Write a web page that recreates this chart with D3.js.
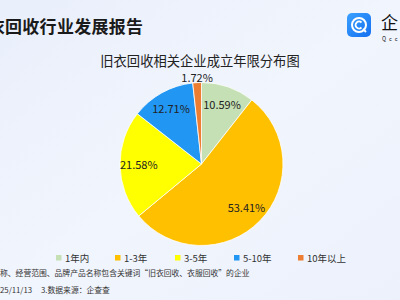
<!DOCTYPE html>
<html><head><meta charset="utf-8">
<script src="https://cdn.jsdelivr.net/npm/d3@7"></script>
<style>
html,body{margin:0;padding:0;width:400px;height:300px;overflow:hidden;}
svg{display:block;font-family:"Noto Sans CJK SC","Noto Sans",sans-serif;}
</style></head>
<body><svg id="c" width="400" height="300"></svg>
<script>
const categories = ["1年内", "1-3年", "3-5年", "5-10年", "10年以上"];
const values = [10.59, 53.41, 21.58, 12.71, 1.72];
const colors = ["#c5e0b4", "#ffc000", "#ffff00", "#2196f3", "#ed7d31"];
const headerText = "旧衣回收行业发展报告";
const titleText = "旧衣回收相关企业成立年限分布图";
const notes = ["1.企业名称、经营范围、品牌产品名称包含关键词“旧衣回收、衣服回收”的企业", "2.统计时间：2025/11/13", "3.数据来源：企查查"];

const svg = d3.select("#c");
const defs = svg.append("defs");
const bg = defs.append("linearGradient").attr("id","bg").attr("x1","0").attr("y1","0").attr("x2","1").attr("y2","1");
bg.append("stop").attr("offset","0").attr("stop-color","#e9effb");
bg.append("stop").attr("offset","0.5").attr("stop-color","#f1f5fd");
bg.append("stop").attr("offset","1").attr("stop-color","#ecf1fc");
const lg = defs.append("linearGradient").attr("id","logo").attr("x1","0").attr("y1","0").attr("x2","1").attr("y2","1");
lg.append("stop").attr("offset","0").attr("stop-color","#3aa0ff");
lg.append("stop").attr("offset","1").attr("stop-color","#1570f0");

svg.append("rect").attr("width",400).attr("height",300).attr("fill","url(#bg)");

// header: place so that the 3rd char starts at x=5
const hdr = svg.append("text").attr("y",33).attr("font-size",17).attr("font-weight",700)
  .attr("fill","#1a1a1a").attr("letter-spacing",0.3).text(headerText);
{
  const pre = hdr.node().getSubStringLength(0,2);
  hdr.attr("x", 5 - pre);
}

// logo
const logo = svg.append("g").attr("transform","translate(347,13)");
logo.append("rect").attr("width",24).attr("height",24).attr("rx",5).attr("fill","url(#logo)");
logo.append("circle").attr("cx",12).attr("cy",12).attr("r",7).attr("fill","none").attr("stroke","#fff").attr("stroke-width",2);
logo.append("path").attr("d","M14.5,9.5 A3.5,3.5 0 1 0 14.5,14.5").attr("fill","none").attr("stroke","#fff").attr("stroke-width",1.8);
logo.append("path").attr("d","M16,16 L19,19").attr("stroke","#fff").attr("stroke-width",2);
svg.append("text").attr("x",381).attr("y",29).attr("font-size",17).attr("fill","#111").text("企");
svg.append("text").attr("x",382).attr("y",41).attr("font-size",5.5).attr("fill","#111").attr("letter-spacing",3).text("Qcc");

// title
svg.append("text").attr("x",200).attr("y",66).attr("text-anchor","middle").attr("font-size",13.3)
  .attr("fill","#222").text(titleText);

// pie
const cx = 201.5, cy = 164, R = 81.5;
const pie = d3.pie().sort(null).value(d => d)(values);
const arc = d3.arc().innerRadius(0).outerRadius(R);
const g = svg.append("g").attr("transform",`translate(${cx},${cy})`);
g.selectAll("path").data(pie).join("path").attr("d",arc)
  .attr("fill",(d,i)=>colors[i]).attr("stroke","#fff").attr("stroke-width",0.8);

const total = d3.sum(values);
g.selectAll("text.lab").data(pie).join("text").attr("class","lab")
  .attr("text-anchor","middle").attr("font-size",11).attr("fill","#222")
  .attr("x", d => { const a=(d.startAngle+d.endAngle)/2; const r = d.data/total<0.05 ? R+1 : R*0.77; return Math.sin(a)*r; })
  .attr("y", d => { const a=(d.startAngle+d.endAngle)/2; if (d.data/total<0.05) return -Math.cos(a)*(R+1); return -Math.cos(a)*R*0.77 + 4; })
  .text(d => d.data.toFixed(2) + "%");

// legend
const legX = [56, 115, 175, 234, 298];
const leg = svg.append("g");
categories.forEach((c,i)=>{
  leg.append("rect").attr("x",legX[i]).attr("y",255).attr("width",5.5).attr("height",5.5).attr("fill",colors[i]);
  leg.append("text").attr("x",legX[i]+9).attr("y",262).attr("font-size",9.5).attr("fill","#333").text(c);
});

// notes
const n1 = svg.append("text").attr("y",276).attr("font-size",7.8).attr("fill","#333").text(notes[0]);
n1.attr("x", -n1.node().getSubStringLength(0,5));
const n2 = svg.append("text").attr("y",293).attr("font-size",7.8).attr("fill","#333").text(notes[1]);
n2.attr("x", -n2.node().getSubStringLength(0,9));
svg.append("text").attr("x",41).attr("y",293).attr("font-size",7.8).attr("fill","#333").text(notes[2]);
</script></body></html>
